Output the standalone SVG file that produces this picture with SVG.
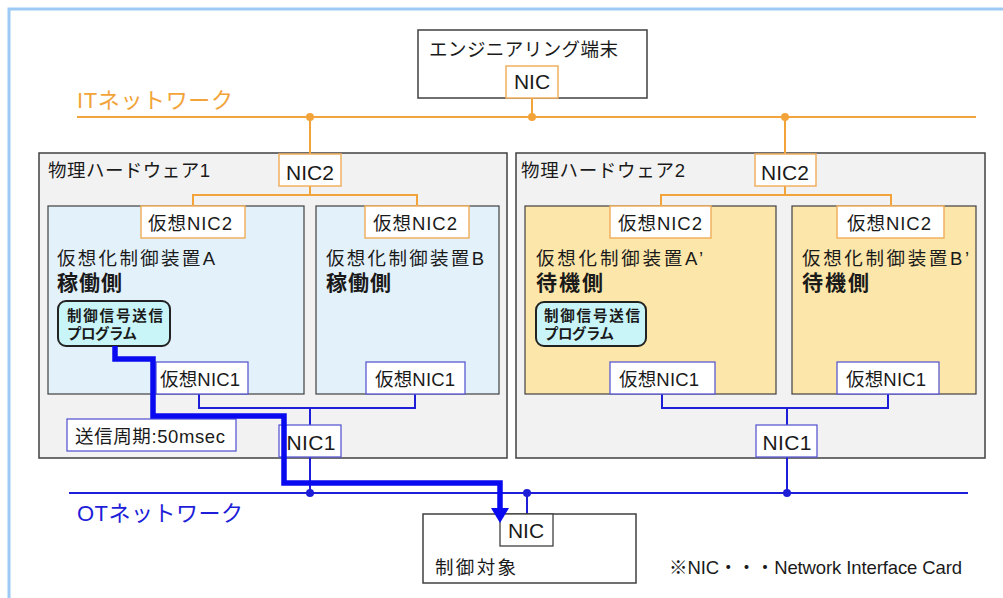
<svg xmlns="http://www.w3.org/2000/svg" width="1003" height="598" viewBox="0 0 1003 598">
  <defs>
    <style>
      text { font-family: "Liberation Sans", "Noto Sans CJK JP", sans-serif; fill: #1a1a1a; }
      .hw { fill: #f2f2f2; stroke: #404040; stroke-width: 1.5; }
      .vm-act { fill: #e3f1fa; stroke: #404040; stroke-width: 1.2; }
      .vm-stb { fill: #fce6a9; stroke: #404040; stroke-width: 1.2; }
      .box { fill: #ffffff; stroke: #404040; stroke-width: 1.5; }
      .nic-it { fill: #ffffff; stroke: #f0b060; stroke-width: 1.5; }
      .nic-ot { fill: #ffffff; stroke: #5a5ad2; stroke-width: 1.3; }
      .prog { fill: #c9f5f8; stroke: #222222; stroke-width: 2; }
      .it { stroke: #f2a43a; stroke-width: 2; fill: none; }
      .ot { stroke: #1e1ed8; stroke-width: 2; fill: none; }
      .dot-it { fill: #f2a43a; }
      .dot-ot { fill: #1e1ed8; }
      .sig { stroke: #0a0af0; stroke-width: 5.5; fill: none; stroke-linejoin: miter; }
      .t17 { font-size: 18.5px; }
      .t19 { font-size: 21px; }
      .bold { font-weight: bold; }
      .prog-t { font-size: 14.5px; font-weight: bold; }
    </style>
  </defs>

  <!-- page frame -->
  <path d="M 9 598 V 9 H 1003" fill="none" stroke="#9dcaf4" stroke-width="3"/>

  <!-- network labels -->
  <text x="77" y="108" font-size="22" textLength="156" style="fill:#f2a43a">ITネットワーク</text>
  <text x="77" y="521" font-size="22" textLength="166" style="fill:#1e1ed8">OTネットワーク</text>

  <!-- engineering terminal -->
  <g id="eng-terminal">
    <rect class="box" x="418" y="30" width="229" height="68"/>
    <text class="t17" x="429" y="56" textLength="189">エンジニアリング端末</text>
    <rect class="nic-it" x="506" y="66" width="52" height="32"/>
    <text class="t19" x="532" y="89" text-anchor="middle">NIC</text>
  </g>

  <!-- physical hardware 1 -->
  <g id="hw1">
    <rect class="hw" x="39" y="153" width="468" height="305"/>
    <text class="t17" x="48" y="177" textLength="162">物理ハードウェア1</text>
  </g>
  <!-- physical hardware 2 -->
  <g id="hw2">
    <rect class="hw" x="516" y="153" width="469" height="305"/>
    <text class="t17" x="521" y="177" textLength="164">物理ハードウェア2</text>
  </g>

  <!-- virtual controller A -->
  <g id="vm-a">
    <rect class="vm-act" x="48" y="206" width="256" height="188"/>
    <text class="t17" x="57" y="265" textLength="158">仮想化制御装置A</text>
    <text class="t19 bold" x="57" y="290" textLength="65">稼働側</text>
  </g>
  <!-- virtual controller B -->
  <g id="vm-b">
    <rect class="vm-act" x="316" y="206" width="183" height="188"/>
    <text class="t17" x="326" y="265" textLength="158">仮想化制御装置B</text>
    <text class="t19 bold" x="326" y="290" textLength="65">稼働側</text>
  </g>
  <!-- virtual controller A' -->
  <g id="vm-a2">
    <rect class="vm-stb" x="525" y="206" width="251" height="188"/>
    <text class="t17" x="536" y="265" textLength="167">仮想化制御装置A’</text>
    <text class="t19 bold" x="536" y="290" textLength="67">待機側</text>
  </g>
  <!-- virtual controller B' -->
  <g id="vm-b2">
    <rect class="vm-stb" x="792" y="206" width="184" height="188"/>
    <text class="t17" x="802" y="265" textLength="167">仮想化制御装置B’</text>
    <text class="t19 bold" x="802" y="290" textLength="67">待機側</text>
  </g>

  <!-- connectors -->
  <g id="connectors">
    <!-- IT network -->
    <line class="it" x1="77" y1="117" x2="976" y2="117"/>
    <path class="it" d="M 532 98 V 117"/>
    <path class="it" d="M 310 117 V 154"/>
    <path class="it" d="M 785 117 V 154"/>
    <path class="it" d="M 310 186 V 195 M 193 206 V 195 H 417 V 206"/>
    <path class="it" d="M 785 186 V 195 M 661 206 V 195 H 891 V 206"/>
    <circle class="dot-it" cx="310" cy="117" r="4"/>
    <circle class="dot-it" cx="532" cy="117" r="4"/>
    <circle class="dot-it" cx="785" cy="117" r="4"/>
    <!-- OT network -->
    <line class="ot" x1="69" y1="493" x2="968" y2="493"/>
    <path class="ot" d="M 199 394 V 408 H 415 V 394 M 310 408 V 425 M 310 457 V 493"/>
    <path class="ot" d="M 662 394 V 408 H 888 V 394 M 787 408 V 425 M 787 457 V 493"/>
    <path class="ot" d="M 527 493 V 514"/>
    <circle class="dot-ot" cx="310" cy="493" r="4"/>
    <circle class="dot-ot" cx="527" cy="493" r="4"/>
    <circle class="dot-ot" cx="787" cy="493" r="4"/>
  </g>

  <!-- NICs on hardware 1 -->
  <g id="hw1-nic2">
    <rect class="nic-it" x="279" y="154" width="62" height="32"/>
    <text class="t19" x="310" y="180" text-anchor="middle" textLength="48">NIC2</text>
  </g>
  <g id="hw1-nic1">
    <rect class="nic-ot" x="279" y="425" width="62" height="32"/>
    <text class="t19" x="311" y="450" text-anchor="middle" textLength="49">NIC1</text>
  </g>
  <g id="vm-a-vnic2">
    <rect class="nic-it" x="141" y="206" width="104" height="32"/>
    <text class="t17" x="148" y="230" textLength="84">仮想NIC2</text>
  </g>
  <g id="vm-b-vnic2">
    <rect class="nic-it" x="365" y="206" width="104" height="32"/>
    <text class="t17" x="373" y="230" textLength="84">仮想NIC2</text>
  </g>
  <g id="vm-a-vnic1">
    <rect class="nic-ot" x="156" y="362" width="92" height="32"/>
    <text class="t17" x="160" y="386" textLength="80">仮想NIC1</text>
  </g>
  <g id="vm-b-vnic1">
    <rect class="nic-ot" x="366" y="362" width="99" height="32"/>
    <text class="t17" x="375" y="386" textLength="80">仮想NIC1</text>
  </g>

  <!-- NICs on hardware 2 -->
  <g id="hw2-nic2">
    <rect class="nic-it" x="755" y="154" width="61" height="32"/>
    <text class="t19" x="785" y="180" text-anchor="middle" textLength="48">NIC2</text>
  </g>
  <g id="hw2-nic1">
    <rect class="nic-ot" x="756" y="425" width="61" height="32"/>
    <text class="t19" x="787" y="450" text-anchor="middle" textLength="49">NIC1</text>
  </g>
  <g id="vm-a2-vnic2">
    <rect class="nic-it" x="610" y="206" width="101" height="32"/>
    <text class="t17" x="618" y="230" textLength="84">仮想NIC2</text>
  </g>
  <g id="vm-b2-vnic2">
    <rect class="nic-it" x="837" y="206" width="107" height="32"/>
    <text class="t17" x="847" y="230" textLength="84">仮想NIC2</text>
  </g>
  <g id="vm-a2-vnic1">
    <rect class="nic-ot" x="610" y="362" width="105" height="32"/>
    <text class="t17" x="619" y="386" textLength="80">仮想NIC1</text>
  </g>
  <g id="vm-b2-vnic1">
    <rect class="nic-ot" x="837" y="362" width="102" height="32"/>
    <text class="t17" x="846" y="386" textLength="80">仮想NIC1</text>
  </g>

  <!-- control signal programs -->
  <g id="prog-a">
    <rect class="prog" x="58" y="301" width="112" height="45" rx="8"/>
    <text class="prog-t" x="67" y="321" textLength="96">制御信号送信</text>
    <text class="prog-t" x="67" y="339" textLength="70">プログラム</text>
  </g>
  <g id="prog-a2">
    <rect class="prog" x="536" y="302" width="110" height="44" rx="8"/>
    <text class="prog-t" x="544" y="321" textLength="96">制御信号送信</text>
    <text class="prog-t" x="544" y="339" textLength="70">プログラム</text>
  </g>

  <!-- send period note -->
  <g id="period">
    <rect class="nic-ot" x="67" y="419" width="169" height="32"/>
    <text class="t17" x="75" y="443" textLength="150">送信周期:50msec</text>
  </g>

  <!-- control target -->
  <g id="target">
    <rect class="box" x="423" y="514" width="213" height="69"/>
    <text class="t17" x="435" y="574" textLength="81">制御対象</text>
    <rect fill="#ffffff" stroke="#404040" stroke-width="1.3" x="500" y="514" width="53" height="32"/>
    <text class="t19" x="526" y="538" text-anchor="middle">NIC</text>
  </g>

  <!-- control signal path from program A to the target NIC -->
  <g id="signal-path">
    <path class="sig" d="M 115 346 V 359 H 153 V 416 H 284 V 483 H 500 V 510"/>
    <polygon points="491,508 509,508 500,523" fill="#0a0af0"/>
  </g>

  <!-- legend -->
  <text class="t17" x="669" y="574" textLength="293">※NIC・・・Network Interface Card</text>
</svg>
